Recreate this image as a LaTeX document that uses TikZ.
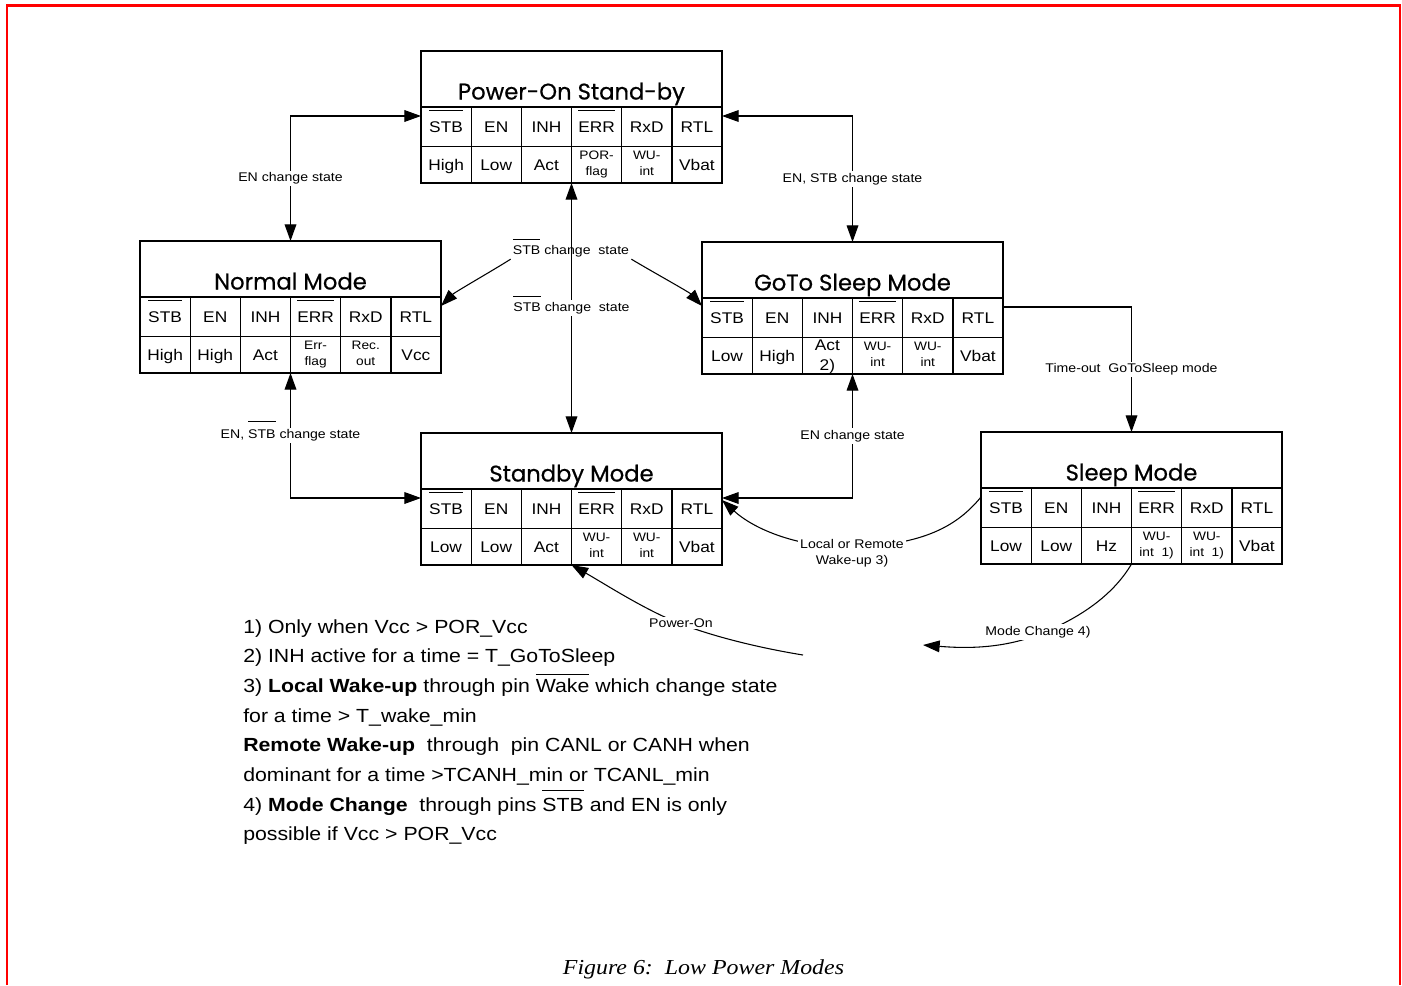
\documentclass[tikz,border=0pt]{standalone}
\usepackage{fontspec}
\setmainfont{Liberation Sans}[FakeStretch=1.12]
\newfontfamily\titlefont{Poppins}[FakeBold=0.6]
\newfontfamily\capfont{Liberation Serif}[FakeStretch=1.12]
\usetikzlibrary{arrows.meta,calc}

\newsavebox\ovbox
\newcommand\ovl[2]{\sbox\ovbox{#2}\rlap{\smash{\rule[#1]{\wd\ovbox}{0.7pt}}}\usebox\ovbox}
\newcommand\tabfont{\fontsize{11.6pt}{14.5pt}\selectfont}
\newcommand\smfont{\fontsize{9.2pt}{11.8pt}\selectfont}
\newcommand\twol[2]{\raisebox{-3.6pt}{\smfont\begin{tabular}[b]{@{}c@{}}#1\\#2\end{tabular}}}
\newcommand\twoL[2]{\raisebox{-6.75pt}{\tabfont\begin{tabular}[b]{@{}c@{}}#1\\#2\end{tabular}}}

\tikzset{
 mbox/.style={draw, line width=1pt, inner sep=0pt, outer sep=0pt, minimum width=225.75pt, minimum height=99pt},
 boxline/.style={line width=1pt},
 ttl/.style={font=\titlefont\fontsize{17pt}{20pt}\selectfont, inner sep=0pt},
 cell/.style={font=\tabfont, inner sep=0pt, text height=8.3pt, text depth=0pt, anchor=center},
 lbl/.style={font=\fontsize{9.45pt}{12pt}\selectfont, inner sep=1.5pt, fill=white},
 lblnf/.style={lbl, fill=none},
 conn/.style={line width=0.8pt},
 arr/.style={conn, -{Triangle[length=12.5pt,width=8.8pt]}},
 darr/.style={conn, {Triangle[length=12.5pt,width=8.8pt]}-{Triangle[length=12.5pt,width=8.8pt]}},
 note/.style={font=\fontsize{14.25pt}{22.3pt}\selectfont, inner sep=0pt, anchor=base west},
 capt/.style={font=\capfont\itshape\fontsize{16pt}{19pt}\selectfont, inner sep=0pt, anchor=base},
 frame/.style={draw=red, line width=1.9pt},
}

\newcommand\modebox[9]{%
  \node[mbox, anchor=north west] (#1) at #2 {};
  \node[ttl, anchor=base] (#1-t) at ($(#1.north)+(0,48.5)$) {#3};
  \draw[boxline] ($(#1.north west)+(0,56)$) -- ($(#1.north east)+(0,56)$);
  \draw[boxline] ($(#1.north west)+(0,95.5)$) -- ($(#1.north east)+(0,95.5)$);
  \foreach \k in {1,...,5}{\draw[boxline] ($(#1.north west)+(\k*50.1667,56)$) -- ($(#1.south west)+(\k*50.1667,0)$);}
  \node[cell] (#1-h1) at ($(#1.north west)+(25.08,75.75)$) {\ovl{16pt}{STB}};
  \node[cell] (#1-h2) at ($(#1.north west)+(75.25,75.75)$) {EN};
  \node[cell] (#1-h3) at ($(#1.north west)+(125.42,75.75)$) {INH};
  \node[cell] (#1-h4) at ($(#1.north west)+(175.58,75.75)$) {\ovl{16pt}{ERR}};
  \node[cell] (#1-h5) at ($(#1.north west)+(225.75,75.75)$) {RxD};
  \node[cell] (#1-h6) at ($(#1.north west)+(275.92,75.75)$) {RTL};
  \node[cell] (#1-v1) at ($(#1.north west)+(25.08,113.75)$) {#4};
  \node[cell] (#1-v2) at ($(#1.north west)+(75.25,113.75)$) {#5};
  \node[cell] (#1-v3) at ($(#1.north west)+(125.42,113.75)$) {#6};
  \node[cell] (#1-v4) at ($(#1.north west)+(175.58,113.75)$) {#7};
  \node[cell] (#1-v5) at ($(#1.north west)+(225.75,113.75)$) {#8};
  \node[cell] (#1-v6) at ($(#1.north west)+(275.92,113.75)$) {#9};
}

\begin{document}
\begin{tikzpicture}[x=0.75pt, y=-0.75pt]
\useasboundingbox (0,0) rectangle (1402,985);
\draw[frame] (7,985) -- (7,5.5) -- (1400,5.5) -- (1400,985);

\modebox{pon}{(421,51)}{Power-On Stand-by}{High}{Low}{Act}{\twol{POR-}{flag}}{\twol{WU-}{int}}{Vbat}
\modebox{normal}{(140,241)}{Normal Mode}{High}{High}{Act}{\twol{Err-}{flag}}{\twol{Rec.}{out}}{Vcc}
\modebox{goto}{(702,242)}{GoTo Sleep Mode}{Low}{High}{\twoL{Act}{2)}}{\twol{WU-}{int}}{\twol{WU-}{int}}{Vbat}
\modebox{stand}{(421,433)}{Standby Mode}{Low}{Low}{Act}{\twol{WU-}{int}}{\twol{WU-}{int}}{Vbat}
\modebox{sleep}{(981,432)}{Sleep Mode}{Low}{Low}{Hz}{\twol{WU-}{int\ \ 1)}}{\twol{WU-}{int\ \ 1)}}{Vbat}

\draw[darr] ($(pon.north west)+(0,65)$) -| (normal.north) node[lbl, pos=0.75] (l1) {EN change state};
\draw[darr] ($(pon.north east)+(0,65)$) -| (goto.north) node[lbl, pos=0.75] (l2) {EN, STB change state};
\draw[darr] (normal.south) |- ($(stand.north west)+(0,65)$) node[lbl, pos=0.25] (l3) {EN, \ovl{12.5pt}{STB} change state};
\draw[darr] (goto.south) |- ($(stand.north east)+(0,65)$) node[lbl, pos=0.25] (l4) {EN change state};
\draw[darr] (pon.south) -- (stand.north) node[lbl, pos=0.5] (l5) {\ovl{10.5pt}{STB} change\ \ state};
\node[lblnf] (l6) at (571,251) {\ovl{10.5pt}{STB} change\ \ state};
\draw[arr] (l6.south west) .. controls (492,271) and (455,292) .. ($(normal.north east)+(0,65)$);
\draw[arr] (l6.south east) .. controls (651,271) and (689,292) .. ($(goto.north west)+(0,64)$);
\draw[arr] ($(goto.north east)+(0,65)$) -| (sleep.north) node[lbl, pos=0.75] (l7) {Time-out\ \ GoToSleep mode};
\draw[arr] ($(sleep.north west)+(0,65)$) .. controls (958,525) and (925,545) .. (852,547) .. controls (800,548) and (755,530) .. ($(stand.north east)+(0,67)$);
\node[lbl, align=center] (l8) at (852,553) {Local or Remote\\Wake-up 3)};
\coordinate (mcEnd) at (923,645);
\draw[arr] (sleep.south) .. controls (1115,592) and (1085,616) .. (1040,634) .. controls (1000,650) and (960,648) .. (mcEnd);
\node[lbl] (l9) at (1038,632) {Mode Change 4)};
\coordinate (poStart) at (803,655);
\draw[arr] (poStart) .. controls (760,648) and (715,637) .. (681,624) .. controls (645,610) and (605,584) .. (stand.south);
\node[lbl] (l10) at (681,623) {Power-On};

\node[note] (n1) at (243,633) {1) Only when Vcc > POR\_Vcc};
\node[note] (n2) at (243,662.7) {2) INH active for a time = T\_GoToSleep};
\node[note] (n3) at (243,692.4) {3) \textbf{Local Wake-up} through pin \ovl{12.8pt}{Wake} which change state};
\node[note] (n4) at (243,722.1) {for a time > T\_wake\_min};
\node[note] (n5) at (243,751.8) {\textbf{Remote Wake-up}\ \ through\ \ pin CANL or CANH when};
\node[note] (n6) at (243,781.5) {dominant for a time >TCANH\_min or TCANL\_min};
\node[note] (n7) at (243,811.2) {4) \textbf{Mode Change}\ \ through pins \ovl{15pt}{STB} and EN is only};
\node[note] (n8) at (243,840.9) {possible if Vcc > POR\_Vcc};

\node[capt] (cap) at (703.5,974) {Figure 6:\ \ Low Power Modes};
\end{tikzpicture}
\end{document}
